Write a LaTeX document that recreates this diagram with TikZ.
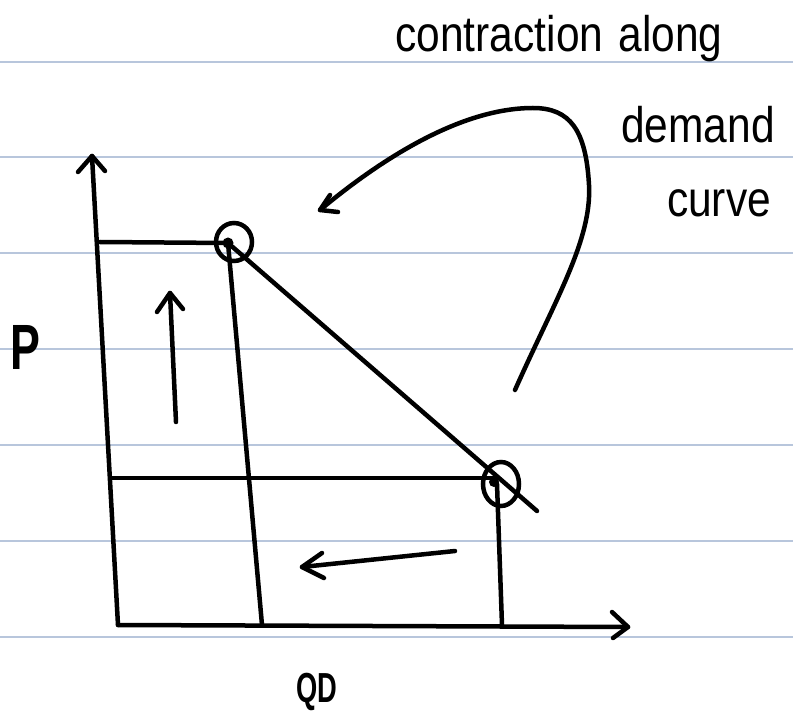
\documentclass[tikz,border=0pt]{standalone}
\usepackage{fontspec}
\setmainfont{Liberation Sans}
\usetikzlibrary{shapes.geometric}
\begin{document}
\begin{tikzpicture}[x=1pt,y=-1pt,
  ink/.style={line width=4.5pt, line cap=round, line join=round, black},
  rule/.style={line width=1.2pt, color={rgb,255:red,184;green,198;blue,220}},
  pt/.style={draw, line width=4.5pt, ellipse, inner sep=0pt},
  hand/.style={font=\fontsize{50}{56}\selectfont, inner sep=0pt}]
\useasboundingbox (0,0) rectangle (793,711);
\fill[white] (0,0) rectangle (793,711);
\foreach \y in {62,157,253,349,445,541,637} \draw[rule] (0,\y) -- (793,\y);

% key points
\coordinate (O) at (118,625);
\coordinate (ytop) at (92,156);
\coordinate (xend) at (628,627);
\coordinate (Ad) at (228,243);
\coordinate (Bd) at (494,482);
\coordinate (Astart) at (100,242);
\coordinate (Bstart) at (112,478);
\coordinate (Afoot) at (262,625);
\coordinate (Bfoot) at (502,625);
\coordinate (Dend) at (537,511);

% axes
\draw[ink] (O) -- (ytop);
\draw[ink] (ytop) ++(-14,16) -- (ytop) -- ++(13,15);
\draw[ink] (O) -- (xend);
\draw[ink] (xend) ++(-16,-15) -- (xend) -- ++(-15,11);

% points
\node[pt, minimum width=36pt, minimum height=38pt] (A) at (234,242) {};
\node[pt, minimum width=36pt, minimum height=44pt] (B) at (501,484) {};
\fill (Ad) circle (5.5pt);
\fill (Bd) circle (5pt);

% guide lines
\draw[ink] (Astart) -- (Ad);
\draw[ink] (Ad) -- (Afoot);
\draw[ink] (Ad) -- (Dend);
\draw[ink] (Bstart) -- (497,478);
\draw[ink] (497,484) -- (Bfoot);

% movement arrows
\coordinate (u1) at (176,422);
\coordinate (u2) at (170,293);
\draw[ink] (u1) -- (u2);
\draw[ink] (u2) ++(-13,19) -- (u2) -- ++(13,16);
\coordinate (l1) at (455,551);
\coordinate (l2) at (302,567);
\draw[ink] (l1) -- (l2);
\draw[ink] (l2) ++(20,-14) -- (l2) -- ++(22,11);

% curved arrow
\coordinate (c1) at (515,390);
\coordinate (c2) at (320,210);
\draw[ink] (c1) .. controls (555,300) and (592,240) .. (589,185)
  .. controls (586,130) and (570,108) .. (533,108)
  .. controls (460,108) and (380,160) .. (c2);
\draw[ink] (c2) ++(10,-15) -- (c2) -- ++(18,2);

% labels
\node[hand, anchor=base] (t1) at (559,52) {\scalebox{0.85}[1]{contraction\hspace{18pt}along}};
\node[hand, anchor=base] (t2) at (698,143) {\scalebox{0.85}[1]{demand}};
\node[hand, anchor=base] (t3) at (719,217) {\scalebox{0.85}[1]{curve}};
\node[hand, anchor=base, font=\fontsize{64}{68}\selectfont\bfseries] (P) at (25,370) {\scalebox{0.7}[1]{P}};
\node[hand, anchor=base, font=\fontsize{42}{48}\selectfont\bfseries] (QD) at (317,702) {\scalebox{0.65}[1]{QD}};
\end{tikzpicture}
\end{document}
